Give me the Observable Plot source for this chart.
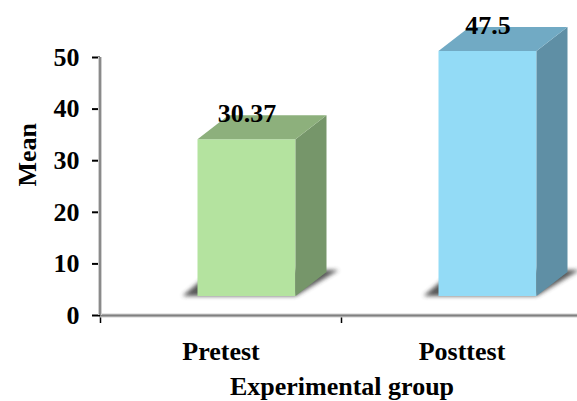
<!DOCTYPE html>
<html>
<head>
<meta charset="utf-8">
<script src="https://cdn.jsdelivr.net/npm/d3@7"></script>
<script src="https://cdn.jsdelivr.net/npm/@observablehq/plot@0.6"></script>
<style>
  html, body { margin: 0; padding: 0; background: #fff; }
  svg { display: block; }
</style>
</head>
<body>
<div id="chart"></div>
<script>
const categories = ["Pretest", "Posttest"];
const means = [30.37, 47.5];
const valueLabels = ["30.37", "47.5"];
const yTicks = [0, 10, 20, 30, 40, 50];
const frontColors = ["#b4e39f", "#93dbf6"];
const topColors = ["#8db07c", "#71aac4"];
const sideColors = ["#76966a", "#5f8fa5"];

const data = categories.map((c, i) => ({category: c, mean: means[i], label: valueLabels[i], front: frontColors[i]}));

const FONT = "'Liberation Serif', 'Times New Roman', serif";
const LIFT = -19;   // bar base lifted above axis (3D floor)
const SHIFT = 26;   // bar shifted right within band
const DEPTH_X = 31, DEPTH_Y = -24;

const plot = Plot.plot({
  width: 577,
  height: 401,
  marginLeft: 100,
  marginRight: 0,
  marginTop: 57,
  marginBottom: 86,
  style: {fontFamily: FONT, fontWeight: "bold", fontSize: "26px", color: "#000", background: "#fff"},
  x: {type: "band", domain: categories, range: [100, 582], padding: 0},
  y: {domain: [0, 50]},
  marks: [
    Plot.axisY({ticks: yTicks, tickSize: 8, tickPadding: 13, tickFormat: d => String(d), label: null, strokeWidth: 2, fontSize: 26, fontWeight: "bold"}),
    Plot.axisX({tickSize: 8, tickFormat: () => "", dx: -120.5, label: null, strokeWidth: 1.5}),
    Plot.axisX({tickSize: 0, tickPadding: 26, label: null, fontSize: 26, fontWeight: "bold"}),
    Plot.ruleY([0], {stroke: "#d0d0d0", strokeWidth: 4}),
    Plot.ruleY([0], {stroke: "#808080", strokeWidth: 2}),
    Plot.ruleX([categories[0]], {dx: -121, stroke: "#d0d0d0", strokeWidth: 4}),
    Plot.ruleX([categories[0]], {dx: -121, stroke: "#8a8a8a", strokeWidth: 2}),
    Plot.barY(data, {x: "category", y: "mean", fill: "front", insetLeft: 71.5, insetRight: 71.5, dx: SHIFT, dy: LIFT, className: "front-face"}),
    Plot.text(data, {x: "category", y: "mean", text: "label", dx: SHIFT, dy: -45, fontSize: 26, fontWeight: "bold", fill: "#000"}),
    Plot.text(["Mean"], {frameAnchor: "left", dx: -73, rotate: -90, fontSize: 26, fontWeight: "bold", fill: "#000"}),
    Plot.text(["Experimental group"], {frameAnchor: "bottom", dx: 3, dy: 79, lineAnchor: "bottom", fontSize: 26, fontWeight: "bold", fill: "#000"})
  ]
});

// Add 3D faces (top, side, floor shadow) positioned with the plot's own scales
const X = plot.scale("x"), Y = plot.scale("y");
const svg = d3.select(plot);
const defs = svg.insert("defs", ":first-child");
defs.append("filter").attr("id", "shblur").attr("x", "-20%").attr("y", "-50%").attr("width", "140%").attr("height", "200%")
  .append("feGaussianBlur").attr("stdDeviation", 2);
const front = svg.select(".front-face");
const g = svg.insert("g", ".front-face");
const g2 = svg.insert("g", function() { return front.node().nextSibling; });
data.forEach((d, i) => {
  const bw = X.bandwidth;
  const cx = X.apply(d.category) + bw / 2 + SHIFT;
  const half = (bw - 2 * 71.5) / 2;
  const left = cx - half, right = cx + half;
  const top = Y.apply(d.mean) + LIFT;
  const base = Y.apply(0) + LIFT;
  const pts = p => p.map(q => q.join(",")).join(" ");
  // shadow
  g.append("polygon")
    .attr("points", pts([[left - 15, base], [right, base], [right + DEPTH_X + 12, base + DEPTH_Y - 2], [left + DEPTH_X - 15, base + DEPTH_Y - 2]]))
    .attr("fill", "#3a3a3a").attr("opacity", 0.85).attr("filter", "url(#shblur)");
  // side face
  g2.append("polygon")
    .attr("points", pts([[right, top], [right + DEPTH_X, top + DEPTH_Y], [right + DEPTH_X, base + DEPTH_Y], [right, base]]))
    .attr("fill", sideColors[i]);
  // top face
  g2.append("polygon")
    .attr("points", pts([[left, top], [right, top], [right + DEPTH_X, top + DEPTH_Y], [left + DEPTH_X, top + DEPTH_Y]]))
    .attr("fill", topColors[i]);
});

document.getElementById("chart").appendChild(plot);
</script>
</body>
</html>
